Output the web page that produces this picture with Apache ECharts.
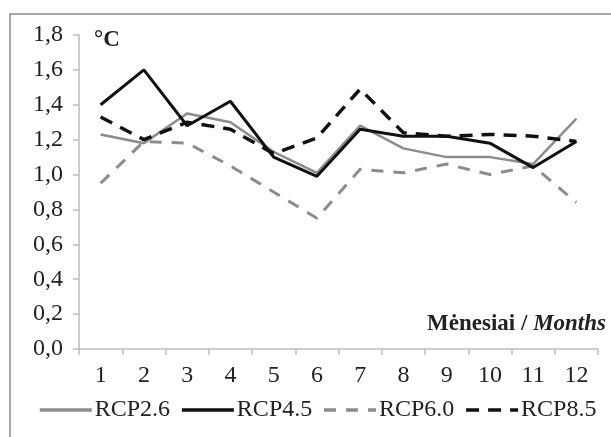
<!DOCTYPE html>
<html lang="lt">
<head>
    <meta charset="UTF-8">
    <title>RCP monthly temperature change</title>
    <script type="text/javascript" src="https://cdn.jsdelivr.net/npm/echarts@6/dist/echarts.min.js"></script>
    <style>
        html, body { margin: 0; padding: 0; background: #fff; }
        #container { width: 611px; height: 437px; }
    </style>
</head>
<body>
<div id="container"></div>
<script type="text/javascript">
    // menesiai ir scenariju reiksmes (°C)
    var months = ['1', '2', '3', '4', '5', '6', '7', '8', '9', '10', '11', '12'];
    var rcp26 = [1.23, 1.18, 1.35, 1.30, 1.13, 1.01, 1.28, 1.15, 1.10, 1.10, 1.06, 1.32];
    var rcp45 = [1.40, 1.60, 1.28, 1.42, 1.10, 0.99, 1.26, 1.22, 1.22, 1.18, 1.04, 1.19];
    var rcp60 = [0.95, 1.19, 1.18, 1.05, 0.90, 0.75, 1.03, 1.01, 1.06, 1.00, 1.05, 0.84];
    var rcp85 = [1.33, 1.20, 1.30, 1.26, 1.12, 1.21, 1.49, 1.24, 1.22, 1.23, 1.22, 1.19];
    var seriesNames = ['RCP2.6', 'RCP4.5', 'RCP6.0', 'RCP8.5'];

    var font = '"Liberation Serif", "Times New Roman", serif';
    var dom = document.getElementById("container");
    var myChart = echarts.init(dom);

    var option = {
        animation: false,
        backgroundColor: '#fff',
        textStyle: {fontFamily: font},
        title: [{
            text: '°C',
            left: 94,
            top: 29,
            padding: 0,
            textStyle: {fontFamily: font, fontSize: 23, fontWeight: 'bold', color: '#222'}
        }, {
            text: '{a|Mėnesiai / }{b|Months}',
            right: 5,
            top: 313,
            padding: 0,
            textStyle: {
                rich: {
                    a: {fontFamily: font, fontSize: 23, fontWeight: 'bold', color: '#222'},
                    b: {fontFamily: font, fontSize: 23, fontWeight: 'bold', fontStyle: 'italic', color: '#222'}
                }
            }
        }],
        graphic: [{
            type: 'rect',
            shape: {x: 10, y: 14, width: 700, height: 500},
            style: {fill: 'none', stroke: '#8a8a8a', lineWidth: 1.5},
            silent: true
        }],
        legend: {
            data: seriesNames,
            left: 38,
            top: 398,
            itemWidth: 52,
            itemHeight: 14,
            itemGap: 10,
            padding: 0,
            // tik linija, be simbolio
            itemStyle: {color: 'rgba(0,0,0,0)', borderWidth: 0, opacity: 0},
            lineStyle: {width: 3.5},
            textStyle: {fontFamily: font, fontSize: 24, color: '#222', padding: [0, 0, 0, -2]}
        },
        grid: {left: 79, right: 13, top: 35, bottom: 88, containLabel: false},
        xAxis: {
            type: 'category',
            data: months,
            boundaryGap: true,
            axisLine: {lineStyle: {color: '#bdbdbd', width: 1.5}},
            axisTick: {show: true, length: 6, lineStyle: {color: '#bdbdbd', width: 1.5}},
            axisLabel: {margin: 15, fontSize: 24, color: '#222', fontFamily: font},
            splitLine: {show: false}
        },
        yAxis: {
            type: 'value',
            min: 0,
            max: 1.8,
            interval: 0.2,
            axisLine: {show: true, lineStyle: {color: '#bdbdbd', width: 1.5}},
            axisTick: {show: true, length: 6, lineStyle: {color: '#bdbdbd', width: 1.5}},
            axisLabel: {
                margin: 16,
                fontSize: 24,
                color: '#222',
                fontFamily: font,
                formatter: function (v) { return v.toFixed(1).replace('.', ','); }
            },
            splitLine: {show: false}
        },
        series: [{
            name: 'RCP2.6',
            type: 'line',
            data: rcp26,
            symbol: 'none',
            lineStyle: {color: '#8c8c8c', width: 2.5},
            itemStyle: {color: '#8c8c8c'},
            z: 2
        }, {
            name: 'RCP4.5',
            type: 'line',
            data: rcp45,
            symbol: 'none',
            lineStyle: {color: '#111', width: 3},
            itemStyle: {color: '#111'},
            z: 4
        }, {
            name: 'RCP6.0',
            type: 'line',
            data: rcp60,
            symbol: 'none',
            lineStyle: {color: '#8c8c8c', width: 3, type: [12, 10], cap: 'butt'},
            itemStyle: {color: '#8c8c8c'},
            z: 1
        }, {
            name: 'RCP8.5',
            type: 'line',
            data: rcp85,
            symbol: 'none',
            lineStyle: {color: '#111', width: 3.5, type: [13, 9], cap: 'butt'},
            itemStyle: {color: '#111'},
            z: 3
        }]
    };

    if (option && typeof option === "object") {
        myChart.setOption(option, true);
    }
</script>
</body>
</html>
